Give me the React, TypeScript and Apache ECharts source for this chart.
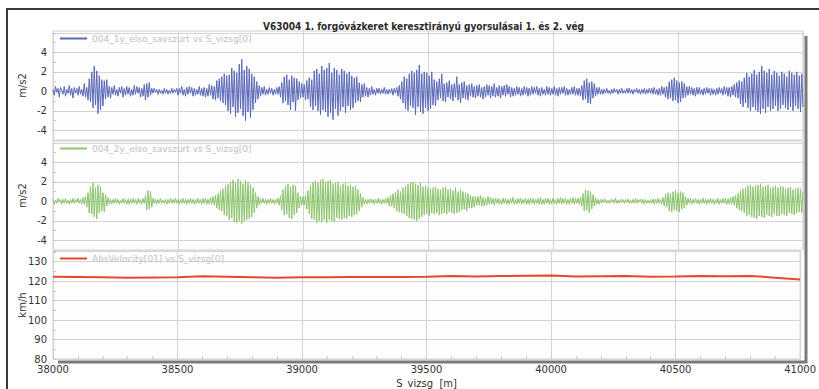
import React, { useEffect, useRef } from "react";
import * as echarts from "echarts";

const TITLE = "V63004 1. forgóvázkeret keresztirányú gyorsulásai 1. és 2. vég";
const X_NAME = "S_vizsg  [m]";
const SERIES_NAMES = [
  "004_1y_elso_savszurt vs S_vizsg[0]",
  "004_2y_elso_savszurt vs S_vizsg[0]",
  "AbsVelocity[01] vs S_vizsg[0]",
];
const X_START = 38000;
const SIGNAL_STEP = 5; // m between samples
const SPEED_STEP = 100;

// 1y lateral acceleration [m/s2], one sample per 5 m from 38000 to 41000 (one row = 100 m)
const BLUE: number[] = [
  0.2, -0.4, 0.5, -0.1, 0.3, -0.6, 0.4, 0.1, -0.3, 0.5, -0.5, 0.2, -0.2, 0.6, -0.4, 0.3, -0.7, 0.4, -0.2, 0.3,
  -0.4, 0.5, -0.3, 0.2, -0.5, 0.8, -0.6, 0.4, -0.9, 1.3, -1.1, 2.0, -1.7, 2.6, -1.4, 2.1, -2.3, 1.6, -1.9, 1.2,
  -1.5, 1.1, -0.8, 1.2, -0.6, 0.5, -0.7, 0.4, -0.3, 0.6, -0.4, 0.2, -0.5, 0.4, -0.2, 0.5, -0.6, 0.3, -0.4, 0.5,
  -0.3, 0.4, -0.5, 0.2, -0.4, 0.6, -0.3, 0.5, -0.2, 0.4, -0.6, 0.3, -0.5, 0.7, -0.9, 0.8, -0.6, 0.9, -0.4, 0.3,
  -0.2, 0.3, -0.1, 0.2, -0.3, 0.2, -0.2, 0.1, -0.3, 0.3, -0.2, 0.2, -0.3, 0.1, -0.2, 0.3, -0.2, 0.2, -0.1, 0.3,
  -0.4, 0.3, -0.2, 0.5, -0.4, 0.2, -0.5, 0.4, -0.3, 0.5, -0.2, 0.4, -0.5, 0.3, -0.4, 0.2, -0.3, 0.5, -0.4, 0.3,
  -0.5, 0.4, -0.6, 0.3, -0.5, 0.7, -0.4, 0.6, -0.8, 0.5, -0.9, 1.1, -0.7, 1.3, -1.0, 1.5, -1.2, 1.8, -1.4, 1.6,
  -2.0, 1.7, -2.3, 2.4, -1.6, 2.1, -2.6, 1.9, -2.2, 2.8, -1.8, 3.3, -2.5, 2.2, -3.0, 2.6, -2.1, 2.3, -2.7, 1.8,
  -1.9, 1.5, -1.2, 1.0, -0.8, 0.6, -0.5, 0.4, -0.3, 0.5, -0.4, 0.2, -0.3, 0.4, -0.2, 0.3, -0.4, 0.2, -0.3, 0.4,
  -0.3, 0.5, -0.6, 0.9, -1.2, 1.5, -1.0, 1.7, -1.4, 1.2, -1.9, 1.6, -1.1, 1.4, -2.0, 1.3, -0.9, 1.0, -0.7, 0.8,
  -0.6, 0.7, -0.9, 1.1, -0.8, 1.4, -1.6, 1.2, -1.9, 2.1, -1.5, 2.3, -2.0, 1.8, -2.4, 2.6, -1.9, 2.2, -2.1, 2.4,
  -2.6, 2.9, -2.2, 1.9, -2.9, 2.4, -1.8, 2.2, -2.5, 1.7, -2.0, 2.3, -1.6, 2.1, -2.2, 1.8, -1.5, 2.0, -1.9, 1.6,
  -1.7, 1.4, -1.2, 1.5, -1.0, 0.9, -1.1, 0.7, -0.6, 0.8, -0.5, 0.4, -0.6, 0.3, -0.4, 0.5, -0.3, 0.2, -0.4, 0.3,
  -0.2, 0.3, -0.3, 0.2, -0.2, 0.4, -0.3, 0.2, -0.3, 0.2, -0.2, 0.3, -0.4, 0.3, -0.2, 0.4, -0.5, 0.6, -0.8, 1.0,
  -1.2, 1.5, -1.8, 1.3, -2.0, 1.8, -1.5, 2.1, -1.7, 1.9, -2.4, 2.2, -1.6, 2.7, -2.1, 1.8, -2.3, 2.0, -1.7, 1.9,
  -2.0, 1.6, -1.8, 2.0, -1.4, 1.2, -1.5, 1.0, -0.9, 1.3, -0.7, 1.8, -1.0, 0.8, -1.1, 0.9, -0.6, 1.1, -0.8, 0.7,
  -1.0, 0.8, -0.6, 1.5, -0.9, 0.7, -1.2, 0.9, -0.7, 1.0, -0.8, 0.6, -0.9, 0.7, -0.5, 0.8, -0.6, 0.5, -0.7, 0.6,
  -0.5, 0.7, -0.6, 0.4, -0.8, 0.5, -0.6, 0.7, -0.4, 0.6, -0.7, 0.5, -0.5, 0.8, -0.6, 0.4, -0.5, 0.6, -0.7, 0.5,
  -0.4, 0.6, -0.5, 0.7, -0.3, 0.5, -0.6, 0.4, -0.5, 0.3, -0.4, 0.5, -0.3, 0.4, -0.5, 0.3, -0.4, 0.5, -0.3, 0.4,
  -0.5, 0.3, -0.4, 0.5, -0.3, 0.4, -0.2, 0.5, -0.4, 0.3, -0.5, 0.4, -0.3, 0.2, -0.4, 0.5, -0.3, 0.4, -0.4, 0.3,
  -0.3, 0.5, -0.4, 0.3, -0.5, 0.4, -0.3, 0.4, -0.2, 0.5, -0.4, 0.3, -0.4, 0.2, -0.3, 0.4, -0.3, 0.5, -0.4, 0.3,
  -0.4, 0.3, -0.5, 0.6, -0.9, 1.1, -0.8, 1.3, -1.2, 0.9, -1.3, 1.0, -0.7, 0.8, -0.5, 0.4, -0.3, 0.4, -0.3, 0.2,
  -0.3, 0.2, -0.2, 0.3, -0.2, 0.1, -0.3, 0.2, -0.2, 0.3, -0.1, 0.2, -0.3, 0.2, -0.2, 0.3, -0.2, 0.1, -0.2, 0.3,
  -0.2, 0.3, -0.2, 0.2, -0.3, 0.2, -0.1, 0.3, -0.2, 0.2, -0.3, 0.2, -0.2, 0.3, -0.3, 0.2, -0.2, 0.3, -0.2, 0.3,
  -0.3, 0.4, -0.3, 0.2, -0.4, 0.3, -0.4, 0.5, -0.3, 0.4, -0.6, 0.5, -0.8, 1.0, -0.7, 1.2, -1.0, 1.4, -0.9, 1.1,
  -1.2, 0.9, -1.1, 1.0, -0.7, 0.8, -0.6, 0.5, -0.4, 0.5, -0.3, 0.4, -0.4, 0.3, -0.5, 0.4, -0.3, 0.4, -0.3, 0.2,
  -0.4, 0.3, -0.3, 0.4, -0.2, 0.3, -0.4, 0.3, -0.3, 0.2, -0.4, 0.3, -0.3, 0.4, -0.2, 0.3, -0.4, 0.5, -0.3, 0.4,
  -0.5, 0.4, -0.6, 0.5, -0.4, 0.7, -0.6, 0.9, -0.7, 1.1, -1.3, 1.0, -1.6, 1.4, -1.2, 1.9, -1.7, 1.5, -2.0, 1.8,
  -1.6, 2.2, -1.9, 1.7, -2.1, 2.0, -2.3, 2.6, -1.8, 2.1, -2.2, 1.9, -1.6, 2.3, -2.0, 1.7, -1.8, 2.1, -1.5, 1.9,
  -2.0, 1.6, -1.8, 2.0, -1.4, 1.8, -1.7, 1.5, -1.9, 2.1, -1.6, 1.9, -2.0, 1.7, -1.5, 2.0, -1.8, 1.6, -2.1, 1.8,
  -1.6,
];

// 2y lateral acceleration [m/s2], one sample per 5 m from 38000 to 41000 (one row = 100 m)
const GREEN: number[] = [
  0.2, -0.3, 0.1, -0.2, 0.3, -0.1, 0.2, -0.3, 0.2, -0.2, 0.3, -0.2, 0.1, -0.3, 0.2, -0.2, 0.3, -0.2, 0.2, -0.1,
  0.3, -0.2, 0.2, -0.3, 0.4, -0.3, 0.5, -0.6, 0.9, -1.2, 1.5, -1.3, 1.9, -1.6, 1.4, -1.8, 1.7, -1.2, 1.5, -1.0,
  0.9, -1.1, 0.7, -0.5, 0.4, -0.3, 0.2, -0.3, 0.2, -0.2, 0.3, -0.2, 0.2, -0.3, 0.1, -0.2, 0.3, -0.2, 0.2, -0.3,
  0.2, -0.3, 0.2, -0.2, 0.3, -0.2, 0.2, -0.3, 0.3, -0.2, 0.2, -0.3, 0.3, -0.2, 0.6, -0.9, 1.1, -0.8, 1.0, -0.6,
  0.3, -0.2, 0.2, -0.3, 0.2, -0.2, 0.3, -0.2, 0.1, -0.2, 0.2, -0.3, 0.2, -0.2, 0.3, -0.2, 0.2, -0.2, 0.3, -0.2,
  0.2, -0.3, 0.2, -0.2, 0.3, -0.2, 0.2, -0.3, 0.2, -0.2, 0.3, -0.2, 0.2, -0.3, 0.2, -0.2, 0.3, -0.2, 0.2, -0.3,
  0.3, -0.2, 0.3, -0.3, 0.2, -0.3, 0.4, -0.3, 0.5, -0.4, 0.6, -0.7, 0.8, -0.9, 1.1, -1.0, 1.3, -1.4, 1.6, -1.5,
  1.8, -1.9, 2.0, -1.7, 2.2, -2.1, 1.9, -2.2, 2.3, -2.0, 2.1, -2.3, 1.8, -2.0, 2.2, -1.9, 2.0, -1.8, 1.7, -1.6,
  1.4, -1.2, 0.9, -0.7, 0.5, -0.4, 0.3, -0.2, 0.3, -0.2, 0.2, -0.3, 0.2, -0.2, 0.3, -0.2, 0.2, -0.3, 0.2, -0.2,
  0.3, -0.4, 0.6, -0.9, 1.2, -1.4, 1.6, -1.3, 1.8, -1.7, 1.5, -1.8, 1.7, -1.4, 1.6, -1.2, 0.9, -0.7, 0.5, -0.4,
  0.5, -0.4, 0.6, -0.8, 1.1, -1.3, 1.6, -1.8, 2.0, -1.9, 2.1, -2.2, 1.9, -2.0, 2.2, -2.1, 2.3, -1.9, 2.0, -2.2,
  2.1, -1.9, 2.2, -2.0, 1.8, -2.1, 1.9, -1.7, 2.0, -1.8, 1.6, -1.9, 1.8, -1.7, 1.9, -1.8, 1.6, -1.5, 1.7, -1.6,
  1.5, -1.4, 1.6, -1.3, 1.2, -1.0, 0.8, -0.6, 0.4, -0.3, 0.2, -0.3, 0.2, -0.2, 0.3, -0.2, 0.2, -0.3, 0.2, -0.2,
  0.3, -0.2, 0.2, -0.3, 0.2, -0.2, 0.3, -0.2, 0.4, -0.5, 0.6, -0.5, 0.8, -0.7, 0.9, -1.0, 1.2, -1.1, 1.0, -1.2,
  1.4, -1.3, 1.6, -1.5, 1.8, -1.7, 1.9, -1.8, 2.0, -1.9, 1.8, -2.0, 1.7, -1.8, 1.9, -1.6, 1.5, -1.4, 1.6, -1.3,
  1.4, -1.5, 1.3, -1.2, 1.4, -1.3, 1.5, -1.2, 1.3, -1.4, 1.2, -1.3, 1.4, -1.2, 1.5, -1.3, 1.2, -1.1, 1.3, -1.2,
  1.1, -1.3, 1.4, -1.2, 1.0, -1.1, 1.2, -0.9, 1.0, -0.8, 0.9, -1.0, 0.8, -0.7, 0.6, -0.7, 0.5, -0.6, 0.5, -0.4,
  0.5, -0.4, 0.6, -0.5, 0.4, -0.5, 0.3, -0.4, 0.5, -0.3, 0.4, -0.3, 0.3, -0.4, 0.3, -0.2, 0.3, -0.3, 0.2, -0.3,
  0.3, -0.2, 0.3, -0.3, 0.2, -0.3, 0.3, -0.2, 0.4, -0.3, 0.2, -0.3, 0.3, -0.2, 0.3, -0.3, 0.2, -0.2, 0.3, -0.3,
  0.2, -0.3, 0.3, -0.2, 0.3, -0.3, 0.2, -0.2, 0.3, -0.3, 0.4, -0.3, 0.2, -0.3, 0.3, -0.2, 0.3, -0.3, 0.2, -0.3,
  0.3, -0.2, 0.2, -0.3, 0.3, -0.2, 0.4, -0.3, 0.3, -0.2, 0.3, -0.3, 0.2, -0.3, 0.3, -0.2, 0.4, -0.3, 0.3, -0.2,
  0.3, -0.3, 0.4, -0.5, 0.8, -1.0, 1.2, -0.9, 1.1, -1.2, 1.0, -0.8, 0.7, -0.5, 0.4, -0.3, 0.2, -0.3, 0.2, -0.2,
  0.2, -0.1, 0.2, -0.2, 0.1, -0.2, 0.2, -0.1, 0.2, -0.2, 0.3, -0.2, 0.1, -0.2, 0.2, -0.1, 0.2, -0.2, 0.2, -0.1,
  0.2, -0.2, 0.1, -0.2, 0.2, -0.2, 0.3, -0.2, 0.2, -0.1, 0.2, -0.2, 0.2, -0.3, 0.2, -0.2, 0.1, -0.2, 0.2, -0.2,
  0.2, -0.3, 0.2, -0.2, 0.3, -0.2, 0.2, -0.3, 0.4, -0.5, 0.7, -0.6, 0.9, -1.0, 0.8, -1.1, 1.0, -0.9, 1.1, -1.0,
  0.9, -1.1, 1.0, -0.8, 0.9, -0.7, 0.5, -0.4, 0.3, -0.2, 0.3, -0.3, 0.2, -0.2, 0.3, -0.2, 0.2, -0.3, 0.2, -0.2,
  0.3, -0.2, 0.2, -0.3, 0.2, -0.2, 0.3, -0.2, 0.2, -0.3, 0.2, -0.2, 0.3, -0.3, 0.2, -0.2, 0.3, -0.2, 0.3, -0.3,
  0.2, -0.3, 0.4, -0.3, 0.5, -0.4, 0.6, -0.7, 0.8, -0.9, 1.1, -1.0, 1.3, -1.2, 1.4, -1.5, 1.6, -1.4, 1.7, -1.6,
  1.5, -1.7, 1.6, -1.8, 1.7, -1.5, 1.8, -1.6, 1.5, -1.7, 1.6, -1.4, 1.7, -1.5, 1.4, -1.6, 1.5, -1.3, 1.6, -1.5,
  1.4, -1.5, 1.6, -1.3, 1.5, -1.4, 1.3, -1.5, 1.4, -1.2, 1.5, -1.3, 1.2, -1.4, 1.3, -1.2, 1.4, -1.1, 1.3, -1.2,
  1.0,
];

// speed [km/h], one sample per 100 m from 38000 to 41000
const SPEED: number[] = [
  122.3, 122.2, 122.0, 121.8, 121.9, 122.0, 122.5, 122.3, 122.0, 121.8,
  122.0, 122.0, 122.1, 122.2, 122.1, 122.3, 122.6, 122.4, 122.6, 122.8,
  122.9, 122.4, 122.5, 122.6, 122.3, 122.4, 122.6, 122.5, 122.7, 121.8,
  120.8,
];

const FONT = "DejaVu Sans";
const TITLE_FONT = "'DejaVu Sans Condensed', 'DejaVu Sans'";
const GRID_TOPS = [31, 141, 251];
const GRID_HEIGHTS = [109, 109, 110];

export default function App() {
  const ref = useRef<HTMLDivElement>(null);

  useEffect(() => {
    if (!ref.current) return;
    const chart = echarts.init(ref.current, undefined, { renderer: "svg" });

    const blueData = BLUE.map((v, i) => [X_START + i * SIGNAL_STEP, v]);
    const greenData = GREEN.map((v, i) => [X_START + i * SIGNAL_STEP, v]);
    const speedData = SPEED.map((v, i) => [X_START + i * SPEED_STEP, v]);

    const grids = GRID_TOPS.map((top, i) => ({
      left: 53,
      right: 16,
      top,
      height: GRID_HEIGHTS[i],
      show: true,
      borderColor: "#cfcfcf",
      borderWidth: 1,
      backgroundColor: "#fdfdfd",
    }));

    const xAxes = [0, 1, 2].map((i) => ({
      type: "value",
      gridIndex: i,
      min: 38000,
      max: 41000,
      interval: 500,
      name: i === 2 ? X_NAME : "",
      nameLocation: "middle",
      nameGap: 19,
      nameMoveOverlap: false,
      nameTextStyle: { color: "#333", fontSize: 10, fontFamily: FONT },
      axisLine: { show: false },
      axisTick: { show: true, inside: true, length: 3, lineStyle: { color: "#c8c8c8" } },
      minorTick: { show: true, splitNumber: 5, length: 3, lineStyle: { color: "#c8c8c8" } },
      axisLabel: {
        show: i === 2,
        color: "#333",
        fontSize: 10,
        fontFamily: FONT,
        margin: 5,
        formatter: (v: number) => String(v),
      },
      splitLine: { show: true, lineStyle: { color: "#d4d4d4", width: 1 } },
    }));

    const accelAxis = (i: number) => ({
      type: "value",
      gridIndex: i,
      min: -5,
      max: 6.2,
      interval: 1,
      name: "m/s2",
      nameLocation: "middle",
      nameGap: 26,
      nameMoveOverlap: false,
      nameTextStyle: { color: "#333", fontSize: 10, fontFamily: FONT },
      axisLine: { show: false },
      axisTick: { show: true, inside: true, length: 3, lineStyle: { color: "#c8c8c8" } },
      axisLabel: {
        color: "#333",
        fontSize: 10,
        fontFamily: FONT,
        margin: 6,
        showMinLabel: false,
        showMaxLabel: false,
        formatter: (v: number) =>
          Number.isInteger(v) && v % 2 === 0 && Math.abs(v) <= 4 ? String(v) : "",
      },
      splitLine: {
        show: true,
        showMinLine: true,
        showMaxLine: true,
        lineStyle: { color: ["rgba(0,0,0,0)", "#d4d4d4"], width: 1 },
      },
    });

    const yAxes = [
      accelAxis(0),
      accelAxis(1),
      {
        type: "value",
        gridIndex: 2,
        min: 80,
        max: 135.5,
        interval: 10,
        name: "km/h",
        nameLocation: "middle",
        nameGap: 26,
        nameMoveOverlap: false,
        nameTextStyle: { color: "#333", fontSize: 10, fontFamily: FONT },
        axisLine: { show: false },
        axisTick: { show: true, inside: true, length: 3, lineStyle: { color: "#c8c8c8" } },
        minorTick: { show: true, splitNumber: 2, length: 3, lineStyle: { color: "#c8c8c8" } },
        axisLabel: {
          color: "#333",
          fontSize: 10,
          fontFamily: FONT,
          margin: 6,
          showMaxLabel: false,
        },
        splitLine: { show: true, lineStyle: { color: "#d4d4d4", width: 1 } },
      },
    ];

    const legendTops = [29, 139, 249];
    const legends = SERIES_NAMES.map((name, i) => ({
      data: [name],
      left: 55,
      top: legendTops[i],
      icon: "rect",
      itemWidth: 27,
      itemHeight: 2,
      itemGap: 6,
      selectedMode: false,
      textStyle: { color: "#c2c2c2", fontSize: 9, fontFamily: FONT },
    }));

    chart.setOption({
      animation: false,
      backgroundColor: "#ffffff",
      title: {
        text: TITLE,
        left: 258,
        top: 16,
        textStyle: { color: "#2a2a2a", fontSize: 10, fontWeight: "bold", fontFamily: TITLE_FONT },
      },
      legend: legends,
      grid: grids,
      xAxis: xAxes,
      yAxis: yAxes,
      series: [
        {
          name: SERIES_NAMES[0],
          type: "line",
          xAxisIndex: 0,
          yAxisIndex: 0,
          data: blueData,
          showSymbol: false,
          symbol: "none",
          color: "#5a68b8",
          lineStyle: { width: 1, color: "#5a68b8" },
          z: 3,
        },
        {
          name: SERIES_NAMES[1],
          type: "line",
          xAxisIndex: 1,
          yAxisIndex: 1,
          data: greenData,
          showSymbol: false,
          symbol: "none",
          color: "#8cc46c",
          lineStyle: { width: 1, color: "#8cc46c" },
          z: 3,
        },
        {
          name: SERIES_NAMES[2],
          type: "line",
          xAxisIndex: 2,
          yAxisIndex: 2,
          data: speedData,
          showSymbol: false,
          symbol: "none",
          color: "#e44a2a",
          lineStyle: { width: 2, color: "#e44a2a" },
          z: 3,
        },
      ],
      graphic: [
        {
          type: "polyline",
          shape: { points: [[7, 389], [7, 9], [819, 9]] },
          style: { stroke: "#3a3a3a", lineWidth: 2, fill: "none" },
          silent: true,
        },
        {
          type: "polyline",
          shape: { points: [[58, 362], [806, 362], [806, 36]] },
          style: { stroke: "#7a7a7a", lineWidth: 3, fill: "none" },
          silent: true,
          z: 10,
        },
      ],
    });

    return () => chart.dispose();
  }, []);

  return (
    <div
      ref={ref}
      style={{ position: "absolute", left: 0, top: 0, width: 819, height: 389 }}
    />
  );
}
